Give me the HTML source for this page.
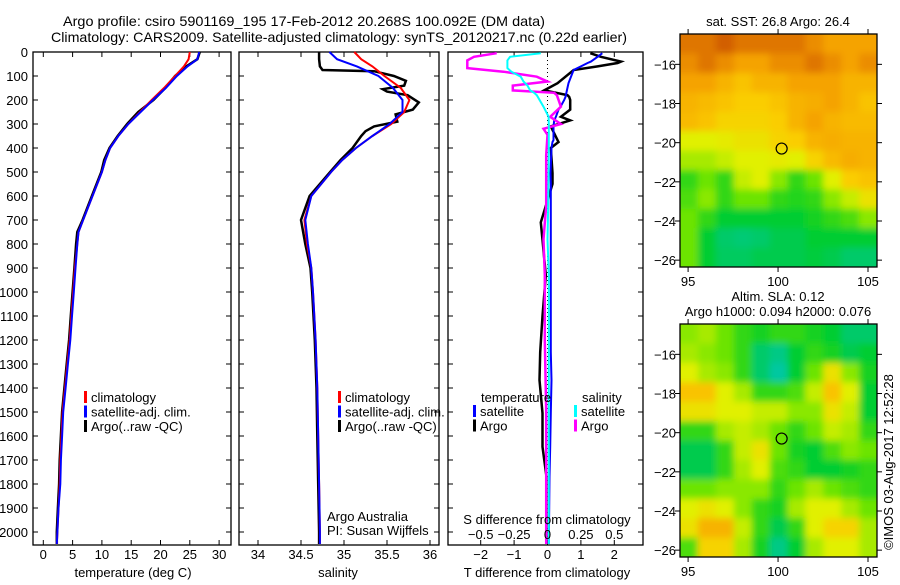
<!DOCTYPE html>
<html><head><meta charset="utf-8"><style>
body{margin:0;background:#fff;}
svg text{font-family:"Liberation Sans",sans-serif;fill:#000;}
</style></head><body>
<svg id="fig" width="900" height="580" viewBox="0 0 900 580" xmlns="http://www.w3.org/2000/svg">
<rect width="900" height="580" fill="#fff"/>
<text x="304" y="26" font-size="14" text-anchor="middle" textLength="482" lengthAdjust="spacingAndGlyphs">Argo profile: csiro 5901169_195 17-Feb-2012 20.268S 100.092E (DM data)</text>
<text x="339" y="42" font-size="14" text-anchor="middle" textLength="576" lengthAdjust="spacingAndGlyphs">Climatology: CARS2009. Satellite-adjusted climatology: synTS_20120217.nc (0.22d earlier)</text>
<g id="g1"></g>
<g id="g2"></g>
<g id="g3"></g>
<g id="m1"></g>
<g id="m2"></g>
<text transform="translate(893,462) rotate(-90)" font-size="13" text-anchor="middle">©IMOS 03-Aug-2017 12:52:28</text>
</svg>
<script>
// ---------- data ----------
const tDepthRed=[0,30,60,100,150,200,250,300,350,400,450,500,600,700,750,800,900,1000,1100,1200,1300,1400,1500,1600,1700,1800,1900,2000,2050];
const tempRed=[25.0,24.8,24.0,22.5,20.6,18.5,16.5,14.5,12.8,11.4,10.6,10.0,8.4,6.8,6.0,5.8,5.4,5.1,4.8,4.5,4.1,3.7,3.3,3.1,2.9,2.8,2.6,2.4,2.3];
const tempBlue=[26.6,26.3,24.6,22.8,20.9,18.7,16.6,14.5,12.8,11.4,10.6,10.0,8.4,6.8,6.0,5.8,5.5,5.2,4.9,4.6,4.2,3.8,3.4,3.2,3.0,2.9,2.6,2.4,2.3];
const tempArgo=[26.7,26.3,24.4,22.5,20.8,18.8,16.2,14.3,12.7,11.3,10.4,9.9,8.3,6.7,5.8,5.6,5.3,5.0,4.7,4.4,4.0,3.6,3.2,3.0,2.8,2.7,2.5,2.3,2.3];
const sDepth=[0,30,60,100,150,200,250,300,350,400,450,500,600,700,800,900,1000,1200,1400,1600,1800,2000,2050];
const salRed=[35.12,35.2,35.33,35.47,35.66,35.76,35.7,35.55,35.33,35.14,34.98,34.85,34.62,34.54,34.57,34.62,34.64,34.67,34.69,34.7,34.71,34.72,34.72];
const salBlue=[34.83,34.92,35.15,35.4,35.57,35.68,35.68,35.53,35.33,35.14,34.98,34.85,34.62,34.55,34.58,34.62,34.64,34.67,34.69,34.7,34.71,34.72,34.72];
const sArgoDepth=[0,30,60,75,80,100,120,140,155,165,180,210,240,260,290,310,330,350,400,450,500,600,700,800,900,1000,1200,1400,1600,1800,2000,2050];
const salArgo=[34.71,34.71,34.72,34.75,35.35,35.58,35.72,35.7,35.45,35.5,35.74,35.87,35.8,35.6,35.62,35.35,35.25,35.2,35.1,34.96,34.84,34.6,34.5,34.55,34.61,34.63,34.66,34.68,34.69,34.7,34.71,34.71];
const dDepthT=[5,20,40,46,60,75,130,160,180,187,200,228,240,270,285,310,367,375,400,505,550,710,783,930,1100,1250,1367,1505,1645,1770,1900,2050];
const dTSat=[1.64,1.5,1.3,1.2,1.0,0.78,0.63,0.58,0.55,0.54,0.5,0.39,0.33,0.25,0.2,0.18,0.18,0.15,0.12,0.09,0.1,0.1,0.1,0.1,0.1,0.1,0.12,0.1,0.08,0.06,0.05,0.04];
const dTArgo=[1.28,1.6,2.2,2.1,1.5,0.78,0.3,-0.1,0.6,0.65,0.68,0.68,0.68,0.4,0.68,0.1,0.3,0.33,0.1,0.15,0.15,-0.2,-0.15,-0.05,-0.15,-0.22,-0.24,-0.15,-0.15,-0.03,-0.03,-0.03];
const dDepthS=[5,20,35,67,82,103,123,140,160,170,180,228,270,300,320,345,430,640,780,930,1200,1500,1800,2050];
const dSSat=[-0.05,-0.28,-0.3,-0.3,-0.27,-0.2,-0.18,-0.15,-0.13,-0.1,-0.08,-0.03,0.008,0.01,0.01,0.01,0.01,0.005,0.0,0.01,0.01,0.01,0.01,0.01];
const dSArgo=[-0.38,-0.55,-0.6,-0.6,-0.33,-0.08,0.0,-0.26,-0.26,0.05,0.07,0.1,0.02,0.1,-0.03,0.0,-0.01,-0.01,-0.03,-0.02,-0.02,-0.01,-0.01,-0.01];
const depthTicks=[0,100,200,300,400,500,600,700,800,900,1000,1100,1200,1300,1400,1500,1600,1700,1800,1900,2000];
const tempTicks=[0,5,10,15,20,25,30];
const salTicks=[34,34.5,35,35.5,36];
const dTTicks=[-2,-1,0,1,2];
const dSTicks=[-0.5,-0.25,0,0.25,0.5];
const dSTickLabels=["\u22120.5","\u22120.25","0","0.25","0.5"];
const dTTickLabels=["\u22122","\u22121","0","1","2"];
const sstGrid=[
[0.95,0.95,1,0.95,0.95,0.95,0.95,0.9,0.85,0.85,0.85],
[0.9,0.95,0.9,0.85,0.85,0.9,0.9,0.95,0.9,0.85,0.9],
[0.85,0.85,0.8,0.75,0.8,0.8,0.85,0.85,0.85,0.8,0.8],
[0.8,0.78,0.75,0.72,0.72,0.75,0.8,0.82,0.85,0.8,0.75],
[0.78,0.75,0.7,0.7,0.7,0.72,0.8,0.85,0.8,0.78,0.78],
[0.6,0.6,0.62,0.65,0.65,0.7,0.72,0.8,0.82,0.8,0.8],
[0.5,0.5,0.55,0.6,0.6,0.62,0.6,0.7,0.78,0.82,0.8],
[0.3,0.4,0.3,0.55,0.6,0.45,0.3,0.4,0.6,0.72,0.75],
[0.35,0.45,0.3,0.4,0.4,0.3,0.28,0.3,0.45,0.55,0.65],
[0.4,0.3,0.2,0.2,0.2,0.2,0.2,0.25,0.3,0.35,0.45],
[0.4,0.2,0.1,0.08,0.1,0.15,0.15,0.2,0.2,0.2,0.2],
[0.4,0.2,0.12,0.12,0.15,0.15,0.15,0.18,0.15,0.1,0.1]];
const slaGrid=[
[0.45,0.5,0.4,0.3,0.25,0.3,0.3,0.25,0.2,0.1,0.1],
[0.5,0.45,0.4,0.3,0.1,0.05,0.2,0.3,0.25,0.15,0.2],
[0.6,0.5,0.45,0.3,0.1,0.0,0.2,0.4,0.65,0.45,0.25],
[0.75,0.75,0.6,0.5,0.3,0.3,0.35,0.55,0.75,0.6,0.2],
[0.65,0.65,0.6,0.6,0.55,0.55,0.45,0.45,0.65,0.55,0.2],
[0.3,0.3,0.5,0.55,0.5,0.4,0.3,0.4,0.55,0.5,0.3],
[0.15,0.15,0.3,0.55,0.65,0.4,0.25,0.2,0.35,0.45,0.4],
[0.15,0.15,0.3,0.5,0.6,0.35,0.3,0.2,0.2,0.25,0.3],
[0.4,0.4,0.45,0.45,0.45,0.3,0.4,0.5,0.4,0.35,0.3],
[0.6,0.65,0.6,0.45,0.3,0.25,0.5,0.6,0.6,0.5,0.4],
[0.65,0.8,0.8,0.55,0.3,0.15,0.3,0.6,0.7,0.7,0.5],
[0.35,0.7,0.7,0.5,0.25,0.05,0.2,0.5,0.6,0.6,0.5]];
const lonTicks=[95,100,105];
const latTicks=[-16,-18,-20,-22,-24,-26];
const argoLon=[100.2], argoLat=[-20.3];

// ---------- helpers ----------
const NS="http://www.w3.org/2000/svg";
function mk(parent,tag,attrs,txt){const e=document.createElementNS(NS,tag);for(const k in attrs)e.setAttribute(k,attrs[k]);if(txt!==undefined)e.textContent=txt;parent.appendChild(e);return e;}
const Y=d=>52+d*0.24;
const TOP=52,BOT=545;
function frame(g,x0,x1){const r=mk(g,'rect',{x:x0,y:TOP,width:x1-x0,height:BOT-TOP,fill:'none',stroke:'#000','stroke-width':1.3});
}
function line(g,xs,ds,xf,color,w,name){const pts=xs.map((v,i)=>xf(v).toFixed(1)+','+Y(ds[i]).toFixed(1)).join(' ');
const p=mk(g,'polyline',{points:pts,fill:'none',stroke:color,'stroke-width':w,'stroke-linejoin':'miter'});
}
function xticks(g,ticks,labels,xf,ly,top){ticks.forEach((t,i)=>{const x=xf(t);
mk(g,'line',{x1:x,x2:x,y1:BOT,y2:BOT-5,stroke:'#000'});
if(top)mk(g,'line',{x1:x,x2:x,y1:TOP,y2:TOP+5,stroke:'#000'});
const tx=mk(g,'text',{x:x,y:ly,'font-size':13,'text-anchor':'middle'},labels[i]);
});}
function legend(g,x,y0,items){items.forEach((it,i)=>{const y=y0+i*14.5;
mk(g,'rect',{x:x,y:y-11,width:3,height:12,fill:it[1]});
const t=mk(g,'text',{x:x+7,y:y,'font-size':13},it[0]);
});}

// ---------- panel 1: temperature ----------
const g1=document.getElementById('g1');
const XT=t=>43.3+t*5.86;
frame(g1,33,231);
depthTicks.forEach(d=>{const y=Y(d);mk(g1,'line',{x1:33,x2:38,y1:y,y2:y,stroke:'#000'});mk(g1,'line',{x1:231,x2:226,y1:y,y2:y,stroke:'#000'});
const t=mk(g1,'text',{x:28,y:y+5,'font-size':13,'text-anchor':'end'},String(d));});
xticks(g1,tempTicks,tempTicks.map(String),XT,559,true);
line(g1,tempArgo,tDepthRed,XT,'#000',2.5,'temp-argo-line');
line(g1,tempRed,tDepthRed,XT,'#f00',2,'temp-climatology-line');
line(g1,tempBlue,tDepthRed,XT,'#00f',2,'temp-satellite-line');
mk(g1,'text',{x:133,y:577,'font-size':13,'text-anchor':'middle'},'temperature (deg C)');
legend(g1,84,402,[['climatology','#f00'],['satellite-adj. clim.','#00f'],['Argo(..raw -QC)','#000']]);

// ---------- panel 2: salinity ----------
const g2=document.getElementById('g2');
const XS=s=>258+(s-34)*86;
frame(g2,239,439);
depthTicks.forEach(d=>{const y=Y(d);mk(g2,'line',{x1:239,x2:244,y1:y,y2:y,stroke:'#000'});mk(g2,'line',{x1:439,x2:434,y1:y,y2:y,stroke:'#000'});});
xticks(g2,salTicks,salTicks.map(String),XS,559,true);
line(g2,salArgo,sArgoDepth,XS,'#000',2.5,'sal-argo-line');
line(g2,salRed,sDepth,XS,'#f00',2,'sal-climatology-line');
line(g2,salBlue,sDepth,XS,'#00f',2,'sal-satellite-line');
mk(g2,'text',{x:338,y:577,'font-size':13,'text-anchor':'middle'},'salinity');
legend(g2,338,402,[['climatology','#f00'],['satellite-adj. clim.','#00f'],['Argo(..raw -QC)','#000']]);
mk(g2,'text',{x:327,y:521,'font-size':13},'Argo Australia');
mk(g2,'text',{x:327,y:535,'font-size':13},'PI: Susan Wijffels');

// ---------- panel 3: differences ----------
const g3=document.getElementById('g3');
const XDT=t=>547.5+t*33.4;
const XDS=s=>547.5+s*133.6;
frame(g3,448,643);
depthTicks.forEach(d=>{const y=Y(d);mk(g3,'line',{x1:448,x2:453,y1:y,y2:y,stroke:'#000'});mk(g3,'line',{x1:643,x2:638,y1:y,y2:y,stroke:'#000'});});
xticks(g3,dTTicks,dTTickLabels,XDT,559,true);
mk(g3,'line',{x1:XDT(0),x2:XDT(0),y1:TOP,y2:BOT,stroke:'#000','stroke-dasharray':'1,3'});
line(g3,dTArgo,dDepthT,XDT,'#000',2.5,'tdiff-argo-line');
line(g3,dTSat,dDepthT,XDT,'#00f',2,'tdiff-satellite-line');
line(g3,dSArgo,dDepthS,XDS,'#f0f',2.5,'sdiff-argo-line');
line(g3,dSSat,dDepthS,XDS,'#0ff',2,'sdiff-satellite-line');
dSTicks.forEach((s,i)=>{const t=mk(g3,'text',{x:XDS(s),y:539,'font-size':13,'text-anchor':'middle'},dSTickLabels[i]);});
mk(g3,'text',{x:547,y:524,'font-size':13,'text-anchor':'middle'},'S difference from climatology');
mk(g3,'text',{x:547,y:577,'font-size':13,'text-anchor':'middle'},'T difference from climatology');
mk(g3,'text',{x:481,y:402,'font-size':13},'temperature');
mk(g3,'text',{x:582,y:402,'font-size':13},'salinity');
legend(g3,473,416,[['satellite','#00f'],['Argo','#000']]);
legend(g3,574,416,[['satellite','#0ff'],['Argo','#f0f']]);

// ---------- maps ----------
const stops=[[0,[0,200,160]],[0.22,[0,205,40]],[0.42,[120,230,0]],[0.6,[225,240,0]],[0.72,[250,205,0]],[0.86,[245,160,0]],[1,[210,95,0]]];
function cmap(v){for(let i=1;i<stops.length;i++){if(v<=stops[i][0]){const a=stops[i-1],b=stops[i];const f=(v-a[0])/(b[0]-a[0]);
return 'rgb('+a[1].map((c,k)=>Math.round(c+(b[1][k]-c)*f)).join(',')+')';}}return 'rgb(210,95,0)';}
function drawMap(id,grid,top,bottom,titles){
const g=document.getElementById(id);
const L=680,R=877,lon0=94.55,lon1=105.5,lat0=-14.45,lat1=-26.35;
const X=lo=>L+(lo-lon0)/(lon1-lon0)*(R-L);
const Yl=la=>top+(la-lat0)/(lat1-lat0)*(bottom-top);
const nr=grid.length,nc=grid[0].length;const cw=(R-L)/nc,ch=(bottom-top)/nr;
const defs=mk(g,'defs',{});const f=mk(defs,'filter',{id:'bl'+id,x:'-5%',y:'-5%',width:'110%',height:'110%'});mk(f,'feGaussianBlur',{stdDeviation:3.5});
const cp=mk(defs,'clipPath',{id:'cp'+id});mk(cp,'rect',{x:L,y:top,width:R-L,height:bottom-top});
const cg=mk(g,'g',{'clip-path':'url(#cp'+id+')'});
mk(cg,'rect',{x:L,y:top,width:R-L,height:bottom-top,fill:cmap(grid[0][0])});
const hg=mk(cg,'g',{filter:'url(#bl'+id+')'});
grid.forEach((row,r)=>row.forEach((v,c)=>{const e=mk(hg,'rect',{x:L+c*cw-(c==0?10:0),y:top+r*ch-(r==0?10:0),width:cw+1+(c==0||c==nc-1?10:0),height:ch+1+(r==0||r==nr-1?10:0),fill:cmap(v)});
}));
const fr=mk(g,'rect',{x:L,y:top,width:R-L,height:bottom-top,fill:'none',stroke:'#000','stroke-width':1.3});

lonTicks.forEach(lo=>{const x=X(lo);mk(g,'line',{x1:x,x2:x,y1:bottom,y2:bottom+5,stroke:'#000'});mk(g,'line',{x1:x,x2:x,y1:top,y2:top-5,stroke:'#000'});
const t=mk(g,'text',{x:x,y:bottom+19,'font-size':13,'text-anchor':'middle'},String(lo));});
latTicks.forEach(la=>{const y=Yl(la);mk(g,'line',{x1:L,x2:L-5,y1:y,y2:y,stroke:'#000'});mk(g,'line',{x1:R,x2:R+5,y1:y,y2:y,stroke:'#000'});
const t=mk(g,'text',{x:676,y:y+5,'font-size':13,'text-anchor':'end'},'\u2212'+Math.abs(la));});
const c=mk(g,'circle',{cx:X(argoLon[0]),cy:Yl(argoLat[0]),r:5.5,fill:'none',stroke:'#000','stroke-width':1.2});

titles.forEach((tt,i)=>{const t=mk(g,'text',{x:778,y:tt[1],'font-size':13,'text-anchor':'middle'},tt[0]);});
}
drawMap('m1',sstGrid,34,267,[['sat. SST: 26.8 Argo: 26.4',26]]);
drawMap('m2',slaGrid,324,557,[['Altim. SLA: 0.12',301],['Argo h1000: 0.094 h2000: 0.076',316]]);
</script>
</body></html>
